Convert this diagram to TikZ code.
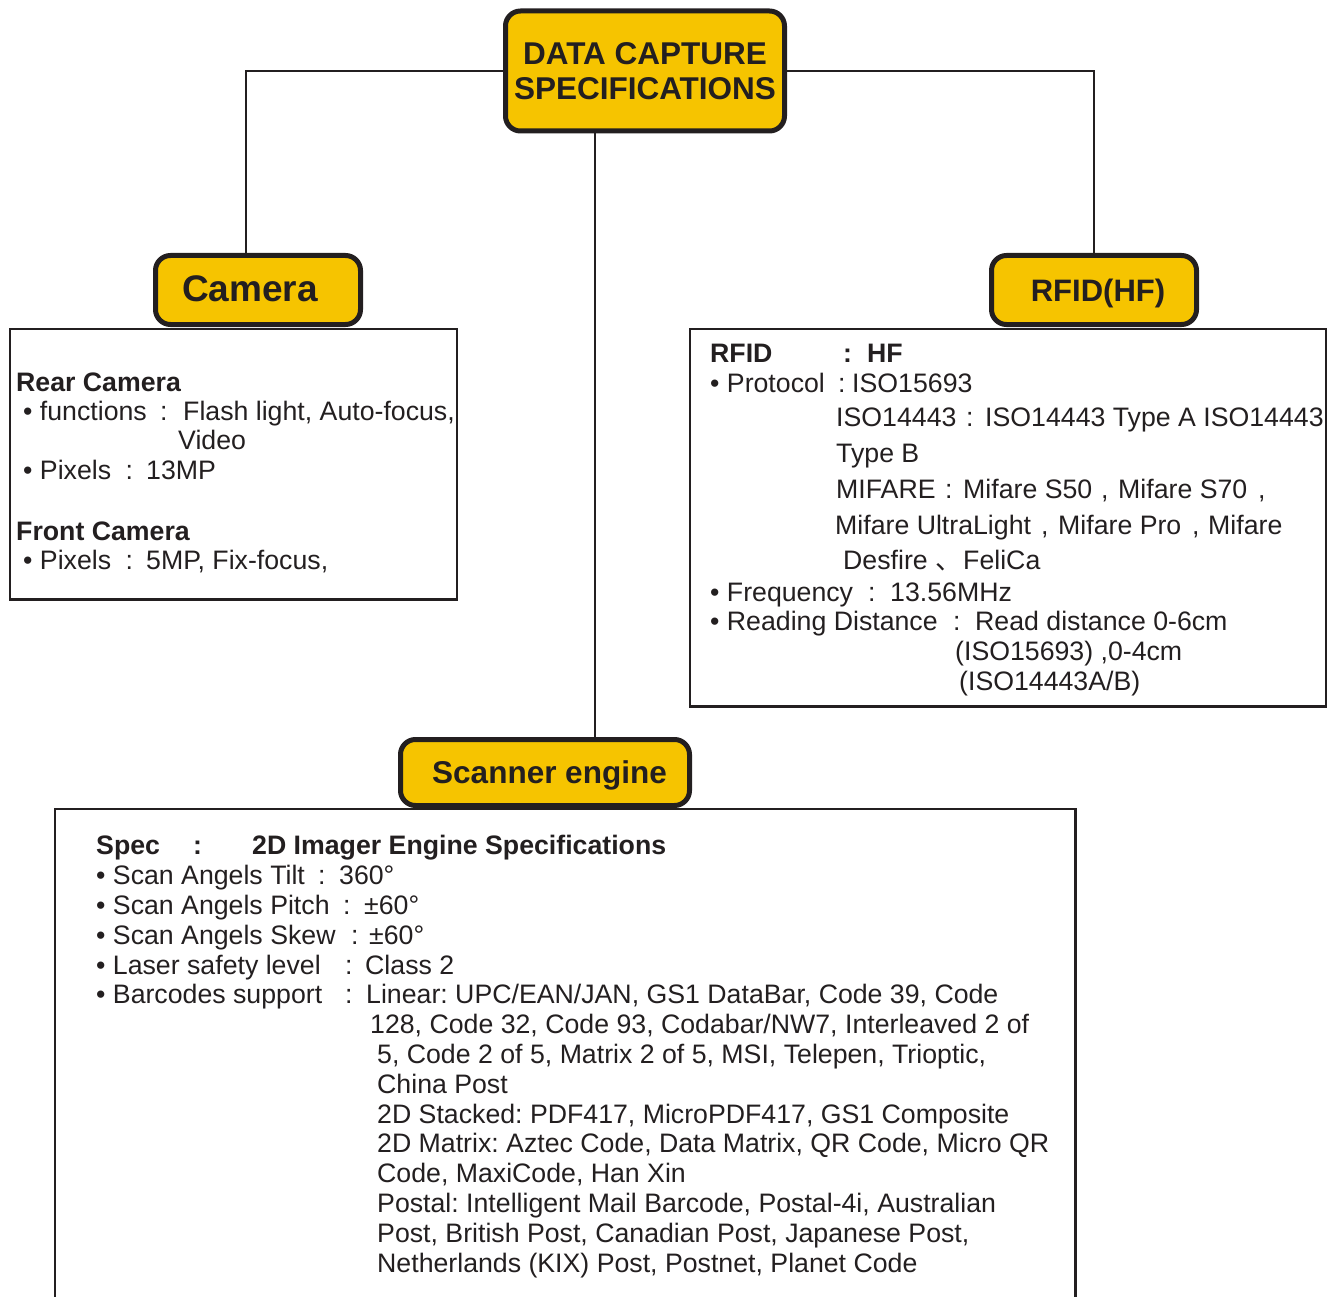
\documentclass[tikz,border=0pt]{standalone}
\usepackage{fontspec}
\setmainfont{Liberation Sans}
\newfontfamily\cjk{Noto Sans CJK SC}
\definecolor{capyellow}{RGB}{246,196,0}
\definecolor{ink}{RGB}{35,31,32}
\frenchspacing
\begin{document}
\begin{tikzpicture}[x=1pt,y=-1pt,
  hdr/.style={draw=ink, line width=5pt, fill=capyellow, rounded corners=15pt, text=ink, inner sep=0pt, align=center},
  panel/.style={draw=ink, line width=2.4pt},
  wire/.style={draw=ink, line width=2.2pt},
  txt/.style={anchor=base west, inner sep=0pt, text=ink, font=\fontsize{26.7}{30}\selectfont},
  btxt/.style={txt, font=\bfseries\fontsize{26.7}{30}\selectfont},
]
\useasboundingbox (0,0) rectangle (1333,1297);

% connector helper coordinates
\coordinate (camx) at (246,0);
\coordinate (midx) at (595,0);

% header boxes
\node[hdr, minimum width=279, minimum height=120, font=\bfseries\fontsize{31.5}{35}\selectfont] (top) at (645,71) {DATA CAPTURE\\SPECIFICATIONS};
\node[hdr, minimum width=205, minimum height=69, text depth=0pt, font=\bfseries\fontsize{37}{40}\selectfont] (cam) at (258,290) {\raisebox{3pt}{Camera}\hspace*{16pt}};
\node[hdr, minimum width=205, minimum height=69, text depth=0pt, font=\bfseries\fontsize{31}{36}\selectfont] (rfid) at (1094,290) {\hspace*{8pt}\raisebox{-1pt}{RFID(HF)}};
\node[hdr, minimum width=289, minimum height=66, text depth=0pt, font=\bfseries\fontsize{31.5}{36}\selectfont] (scan) at (545,772.5) {\hspace*{9pt}Scanner engine};

% connectors
\draw[wire] (top.west) -| (cam.north -| camx);
\draw[wire] (top.east) -| (rfid.north);
\draw[wire] (top.south -| midx) -- (scan.north -| midx);

% panels
\draw[panel] (10.2,329.2) rectangle (456.8,599.3);
\draw[panel] (690.2,329.2) rectangle (1325.8,706.3);
\draw[panel] (55.2,1320) -- (55.2,809.2) -- (1075.3,809.2) -- (1075.3,1320);

% camera text
\node[btxt] (c1) at (16,391) {Rear Camera};
\node[txt] (c2) at (23,420) {• functions};
\node[txt] (c2c) at (160,420) {:};
\node[txt] (c2v) at (183,420) {Flash light, Auto-focus,};
\node[txt] (c3) at (178,449) {Video};
\node[txt] (c4) at (23,479) {• Pixels};
\node[txt] (c4c) at (125.5,479) {:};
\node[txt] (c4v) at (146,479) {13MP};
\node[btxt] (c5) at (16,540) {Front Camera};
\node[txt] (c6) at (23,569) {• Pixels};
\node[txt] (c6c) at (125.5,569) {:};
\node[txt] (c6v) at (146,569) {5MP, Fix-focus,};

% rfid text
\node[btxt] (r1) at (710,362) {RFID};
\node[btxt] (r1c) at (843,362) {:};
\node[btxt] (r1v) at (867,362) {HF};
\node[txt] (r2) at (710,392) {• Protocol};
\node[txt] (r2c) at (838,392) {:};
\node[txt] (r2v) at (852,392) {ISO15693};
\node[txt] (r3a) at (836,426) {ISO14443};
\node[txt] (r3b) at (966,426) {:};
\node[txt] (r3c) at (985,426) {ISO14443 Type A ISO14443};
\node[txt] (r4) at (836,462) {Type B};
\node[txt] (r5a) at (836,498) {MIFARE};
\node[txt] (r5b) at (945,498) {:};
\node[txt] (r5c) at (963,498) {Mifare S50};
\node[txt] (r5d) at (1101,498) {,};
\node[txt] (r5e) at (1118,498) {Mifare S70};
\node[txt] (r5f) at (1258,498) {,};
\node[txt] (r6a) at (835,534) {Mifare UltraLight};
\node[txt] (r6b) at (1041,534) {,};
\node[txt] (r6c) at (1058,534) {Mifare Pro};
\node[txt] (r6d) at (1192,534) {,};
\node[txt] (r6e) at (1208,534) {Mifare};
\node[txt] (r7a) at (843,569) {Desfire};
\node[txt, font=\cjk\fontsize{26.7}{30}\selectfont] (r7b) at (935,569) {、};
\node[txt] (r7c) at (963,569) {FeliCa};
\node[txt] (r8) at (710,601) {• Frequency};
\node[txt] (r8c) at (868,601) {:};
\node[txt] (r8v) at (890,601) {13.56MHz};
\node[txt] (r9) at (710,630) {• Reading Distance};
\node[txt] (r9c) at (953,630) {:};
\node[txt] (r9v) at (975,630) {Read distance 0-6cm};
\node[txt] (r10) at (955,660) {(ISO15693) ,0-4cm};
\node[txt] (r11) at (959,690) {(ISO14443A/B)};

% scanner text
\node[btxt] (s1) at (96,854) {Spec};
\node[btxt] (s1c) at (193,854) {:};
\node[btxt] (s1v) at (252,854) {2D Imager Engine Specifications};
\node[txt] (s2) at (96,884) {• Scan Angels Tilt};
\node[txt] (s2c) at (318,884) {:};
\node[txt] (s2v) at (339,884) {360°};
\node[txt] (s3) at (96,914) {• Scan Angels Pitch};
\node[txt] (s3c) at (343,914) {:};
\node[txt] (s3v) at (364,914) {±60°};
\node[txt] (s4) at (96,944) {• Scan Angels Skew};
\node[txt] (s4c) at (351,944) {:};
\node[txt] (s4v) at (369,944) {±60°};
\node[txt] (s5) at (96,974) {• Laser safety level};
\node[txt] (s5c) at (345,974) {:};
\node[txt] (s5v) at (365,974) {Class 2};
\node[txt] (s6) at (96,1003) {• Barcodes support};
\node[txt] (s6c) at (345,1003) {:};
\node[txt] (s6v) at (366,1003) {Linear: UPC/EAN/JAN, GS1 DataBar, Code 39, Code};
\node[txt] (s7) at (370,1033) {128, Code 32, Code 93, Codabar/NW7, Interleaved 2 of};
\node[txt] (s8) at (377,1063) {5, Code 2 of 5, Matrix 2 of 5, MSI, Telepen, Trioptic,};
\node[txt] (s9) at (377,1093) {China Post};
\node[txt] (s10) at (377,1123) {2D Stacked: PDF417, MicroPDF417, GS1 Composite};
\node[txt] (s11) at (377,1152) {2D Matrix: Aztec Code, Data Matrix, QR Code, Micro QR};
\node[txt] (s12) at (377,1182) {Code, MaxiCode, Han Xin};
\node[txt] (s13) at (377,1212) {Postal: Intelligent Mail Barcode, Postal-4i, Australian};
\node[txt] (s14) at (377,1242) {Post, British Post, Canadian Post, Japanese Post,};
\node[txt] (s15) at (377,1272) {Netherlands (KIX) Post, Postnet, Planet Code};
\end{tikzpicture}
\end{document}
